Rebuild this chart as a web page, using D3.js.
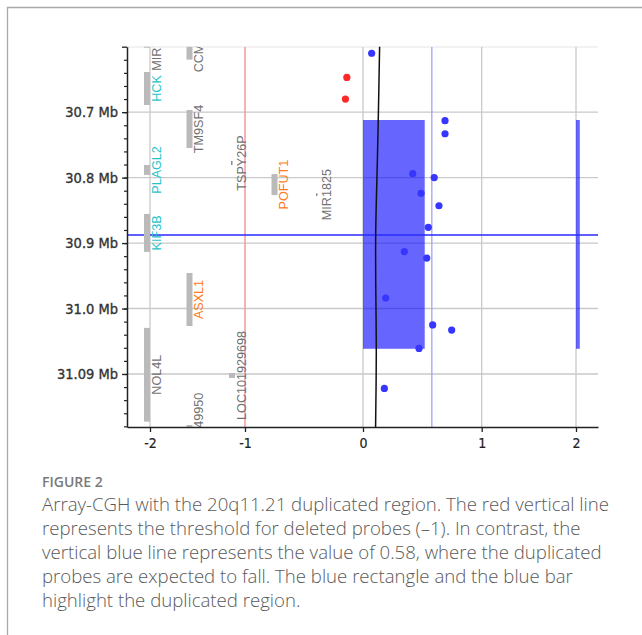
<!DOCTYPE html>
<html>
<head>
<meta charset="utf-8">
<script src="https://cdn.jsdelivr.net/npm/d3@7"></script>
<style>
  body { margin: 0; background: #fff; }
  svg { display: block; }
  .ylab, .xlab { font-family: "Liberation Sans Narrow", "DejaVu Sans Condensed", sans-serif; }
  .gene { font-family: "Liberation Sans", Arial, sans-serif; font-size: 12.6px; }
  .cap { font-family: "Open Sans", sans-serif; }
</style>
</head>
<body>
<svg id="chart" width="642" height="635"></svg>
<script>
// probe positions (Mb) and log2 ratios
const probeMb    = [30.610, 30.647, 30.680, 30.713, 30.733, 30.794, 30.800, 30.824, 30.843, 30.876, 30.913, 30.923, 30.984, 31.025, 31.033, 31.061, 31.122];
const probeRatio = [0.073, -0.137, -0.149, 0.691, 0.691, 0.419, 0.60, 0.489, 0.64, 0.55, 0.348, 0.537, 0.191, 0.587, 0.747, 0.472, 0.18];
const probeDeleted = [false, true, true, false, false, false, false, false, false, false, false, false, false, false, false, false, false];

// smoothed moving average line
const avgMb    = [30.599, 30.701, 30.778, 30.835, 30.895, 30.961, 31.013, 31.063, 31.124, 31.181];
const avgRatio = [0.140, 0.130, 0.121, 0.112, 0.105, 0.107, 0.110, 0.113, 0.110, 0.106];

// duplicated region
const dupStart = 30.712, dupEnd = 31.0615;
const dupRatio = 0.52;
const dupBar = [2, 2.04];
const cursorMb = 30.8875;
const delThreshold = -1;
const dupThreshold = 0.58;

// gene track (labels run past the plot edge and get clipped)
const genes = [
  { name: "MIR7641-2", track: 0, start: 30.5765, end: 30.6015, kind: "other" },
  { name: "HCK",       track: 0, start: 30.6387, end: 30.689, kind: "cyan" },
  { name: "PLAGL2",    track: 0, start: 30.7807, end: 30.7959, kind: "cyan" },
  { name: "KIF3B",     track: 0, start: 30.8555, end: 30.9135, kind: "cyan" },
  { name: "NOL4L",     track: 0, start: 31.0296, end: 31.1728, kind: "other" },
  { name: "CCM2L",     track: 1, start: 30.5935, end: 30.6197, kind: "other" },
  { name: "TM9SF4",    track: 1, start: 30.6967, end: 30.7548, kind: "other" },
  { name: "ASXL1",     track: 1, start: 30.9457, end: 31.0267, kind: "orange" },
  { name: "LOC101949950", track: 1, start: 31.178, end: 31.215, kind: "other" },
  { name: "TSPY26P",   track: 2, start: 30.7746, end: 30.7807, kind: "other", thin: true },
  { name: "LOC101929698", track: 2, start: 31.0985, end: 31.106, kind: "other" },
  { name: "POFUT1",    track: 3, start: 30.7946, end: 30.8267, kind: "orange" },
  { name: "MIR1825",   track: 4, start: 30.824, end: 30.828, kind: "other", thin: true }
];

const yTicks  = [30.6, 30.7, 30.8, 30.9, 31.0, 31.1];
const yLabels = ["", "30.7 Mb", "30.8 Mb", "30.9 Mb", "31.0 Mb", "31.09 Mb"];
const xTicks  = [-2, -1, 0, 1, 2];

const captionTitle = "FIGURE 2";
const captionLines = [
  "Array-CGH with the 20q11.21 duplicated region. The red vertical line",
  "represents the threshold for deleted probes (\u20131). In contrast, the",
  "vertical blue line represents the value of 0.58, where the duplicated",
  "probes are expected to fall. The blue rectangle and the blue bar",
  "highlight the duplicated region."
];

const svg = d3.select("#chart");

// figure frame
svg.append("path")
  .attr("d", "M7.5,640V7.5H650")
  .attr("fill", "none")
  .attr("stroke", "#a8a8a8")
  .attr("stroke-width", 1.3);

const pLeft = 127, pRight = 598, pTop = 46.7, pBottom = 427;

// the ratio axis is stretched between -1 and 1
const x = d3.scaleLinear()
  .domain([-2.24, -2, -1, 0, 1, 2, 2.23])
  .range([pLeft, 150, 245, 363, 481.7, 576, pRight]);

const y = d3.scaleLinear()
  .domain([30.6, 31.181])
  .range([pTop, pBottom]);

const kindColor = { cyan: "#1ec4cc", orange: "#ff7a24", other: "#727272" };

svg.append("clipPath").attr("id", "plotclip")
  .append("rect")
  .attr("x", pLeft).attr("y", pTop)
  .attr("width", pRight - pLeft).attr("height", pBottom - pTop);

const plot = svg.append("g").attr("clip-path", "url(#plotclip)");

// grid
plot.append("g").selectAll("line")
  .data(yTicks)
  .join("line")
  .attr("x1", pLeft).attr("x2", pRight)
  .attr("y1", d => y(d)).attr("y2", d => y(d))
  .attr("stroke", "#c9c9c9").attr("stroke-width", 1.3);

plot.append("g").selectAll("line")
  .data(xTicks.filter(d => d !== delThreshold))
  .join("line")
  .attr("x1", d => x(d)).attr("x2", d => x(d))
  .attr("y1", pTop).attr("y2", pBottom)
  .attr("stroke", "#c9c9c9").attr("stroke-width", 1.3);

// deletion threshold
plot.append("line")
  .attr("x1", x(delThreshold)).attr("x2", x(delThreshold))
  .attr("y1", pTop).attr("y2", pBottom)
  .attr("stroke", "#f29a9a").attr("stroke-width", 1.5);

// duplicated region
plot.append("rect")
  .attr("x", x(0)).attr("y", y(dupStart))
  .attr("width", x(dupRatio) - x(0))
  .attr("height", y(dupEnd) - y(dupStart))
  .attr("fill", "#0000ff").attr("fill-opacity", 0.6);

plot.append("rect")
  .attr("x", x(dupBar[0])).attr("y", y(dupStart))
  .attr("width", x(dupBar[1]) - x(dupBar[0]))
  .attr("height", y(dupEnd) - y(dupStart))
  .attr("fill", "#0000ff").attr("fill-opacity", 0.6);

plot.append("line")
  .attr("x1", x(dupThreshold)).attr("x2", x(dupThreshold))
  .attr("y1", pTop).attr("y2", pBottom)
  .attr("stroke", "#9a9aff").attr("stroke-width", 1.2);

plot.append("line")
  .attr("x1", pLeft).attr("x2", pRight)
  .attr("y1", y(cursorMb)).attr("y2", y(cursorMb))
  .attr("stroke", "#2a2aff").attr("stroke-width", 1.5);

// moving average
const avg = avgMb.map((d, i) => [avgRatio[i], d]);
plot.append("path")
  .datum(avg)
  .attr("fill", "none")
  .attr("stroke", "#111")
  .attr("stroke-width", 1.5)
  .attr("d", d3.line().x(d => x(d[0])).y(d => y(d[1])).curve(d3.curveBasis));

// probes
plot.append("g").selectAll("circle")
  .data(probeMb.map((d, i) => ({ mb: d, r: probeRatio[i], del: probeDeleted[i] })))
  .join("circle")
  .attr("cx", d => x(d.r))
  .attr("cy", d => y(d.mb))
  .attr("r", 3.6)
  .attr("fill", d => d.del ? "#ff2828" : "#3636ff");

// genes
const trackX = d3.scaleLinear().domain([0, 4]).range([144, 314]);
const gg = plot.append("g");
gg.selectAll("rect")
  .data(genes)
  .join("rect")
  .attr("x", d => d.thin ? trackX(d.track) + 2 : trackX(d.track))
  .attr("width", d => d.thin ? 1.5 : 6)
  .attr("y", d => y(d.start))
  .attr("height", d => Math.max(y(d.end) - y(d.start), 2))
  .attr("fill", d => d.thin ? "#8a8a8a" : "#bababa");

gg.selectAll("text")
  .data(genes)
  .join("text")
  .attr("class", "gene")
  .attr("transform", d => `translate(${trackX(d.track) + 16.5},${y((d.start + d.end) / 2)}) rotate(-90)`)
  .attr("text-anchor", "middle")
  .attr("fill", d => kindColor[d.kind])
  .text(d => d.name);

// axes
const yAxis = svg.append("g")
  .attr("transform", `translate(${pLeft},0)`)
  .call(d3.axisLeft(y).tickValues(yTicks).tickFormat((d, i) => yLabels[i]).tickSize(5).tickSizeOuter(0));
yAxis.select(".domain").attr("stroke", "#222").attr("stroke-width", 1.5);
yAxis.selectAll(".tick line").attr("stroke", "#222").attr("stroke-width", 1.3);
yAxis.selectAll("text")
  .attr("class", "ylab")
  .attr("x", -9)
  .attr("font-size", 14.5)
  .attr("fill", "#333")
  .attr("stroke", "#333")
  .attr("stroke-width", 0.35);

const yMinor = svg.append("g")
  .attr("transform", `translate(${pLeft},0)`)
  .call(d3.axisLeft(y).tickValues(d3.range(30.62, 31.181, 0.02)).tickFormat("").tickSize(3).tickSizeOuter(0));
yMinor.select(".domain").remove();
yMinor.selectAll(".tick line").attr("stroke", "#222").attr("stroke-width", 1.2);

const xAxis = svg.append("g")
  .attr("transform", `translate(0,${pBottom})`)
  .call(d3.axisBottom(x).tickValues(xTicks).tickFormat(d => String(d)).tickSize(5).tickSizeOuter(0));
xAxis.select(".domain").attr("stroke", "#222").attr("stroke-width", 1.5);
xAxis.selectAll(".tick line").attr("stroke", "#222").attr("stroke-width", 1.3);
xAxis.selectAll("text")
  .attr("class", "xlab")
  .attr("y", 11)
  .attr("font-size", 14)
  .attr("fill", "#222")
  .attr("stroke", "#222")
  .attr("stroke-width", 0.2);

// caption
svg.append("text")
  .attr("class", "cap")
  .attr("x", 42)
  .attr("y", 487)
  .attr("font-size", 14)
  .attr("font-weight", 600)
  .attr("fill", "#7a7a7a")
  .text(captionTitle);

svg.append("g").selectAll("text")
  .data(captionLines)
  .join("text")
  .attr("class", "cap")
  .attr("x", 42)
  .attr("y", (d, i) => 511 + i * 24)
  .attr("font-size", 18.6)
  .attr("font-weight", 300)
  .attr("fill", "#595959")
  .text(d => d);
</script>
</body>
</html>
